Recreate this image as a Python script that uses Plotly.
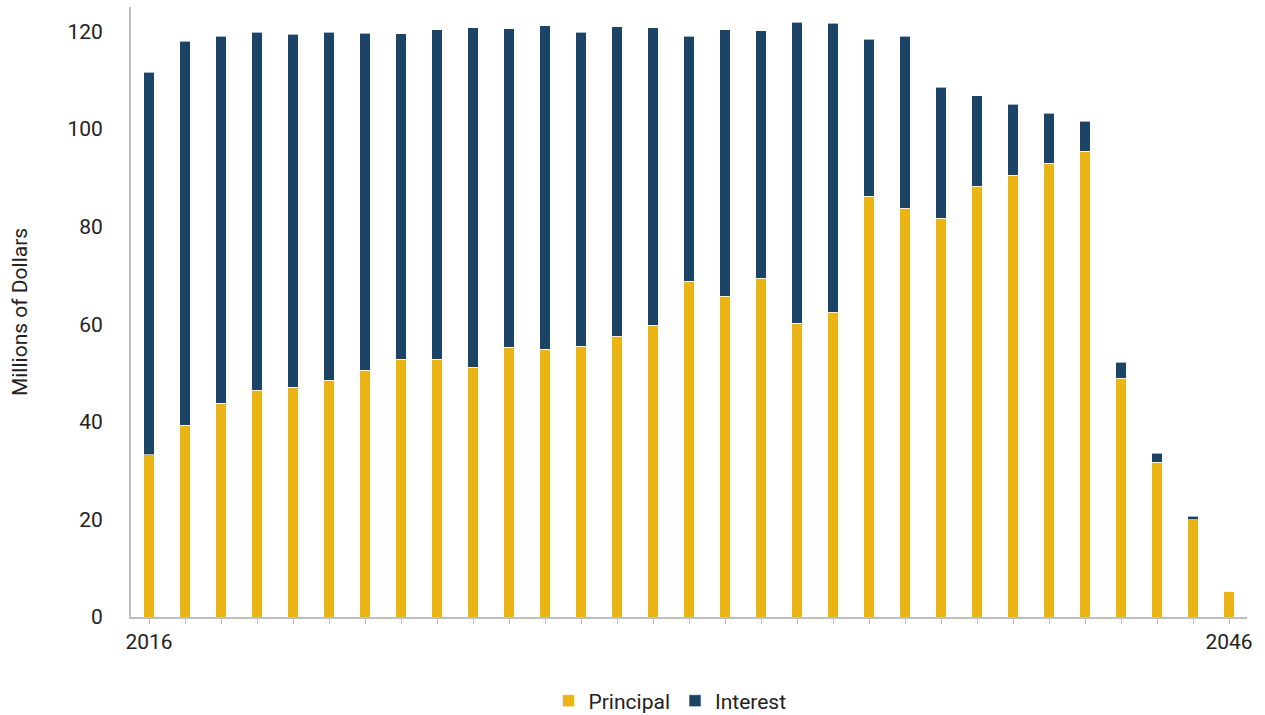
import plotly.graph_objects as go

years = list(range(2016, 2047))
principal = [33.2, 39.3, 43.8, 46.5, 47.1, 48.5, 50.6, 52.8, 52.8, 51.2,
             55.3, 54.9, 55.5, 57.5, 59.8, 68.8, 65.7, 69.4, 60.2, 62.5,
             86.2, 83.8, 81.7, 88.3, 90.5, 93.0, 95.4, 48.9, 31.7, 19.9, 5.3]
total = [111.6, 118.0, 119.0, 119.8, 119.4, 119.8, 119.6, 119.5, 120.3, 120.7,
         120.5, 121.2, 119.8, 121.0, 120.8, 119.0, 120.3, 120.1, 121.9, 121.7,
         118.4, 119.0, 108.6, 106.8, 105.1, 103.2, 101.6, 52.2, 33.6, 20.6, 5.3]
interest = [round(t - p, 2) for t, p in zip(total, principal)]
tick_text = ["2016"] + [""] * 29 + ["2046"]

GOLD = "#E9B414"
NAVY = "#1B4466"
FS = 21

fig = go.Figure()
fig.add_trace(go.Bar(x=years, y=principal, name="Principal", width=0.3,
                     marker=dict(color=GOLD, line=dict(color="rgba(255,255,255,0.6)", width=1))))
fig.add_trace(go.Bar(x=years, y=interest, name="Interest", width=0.3,
                     marker=dict(color=NAVY, line=dict(color="rgba(255,255,255,0.6)", width=1))))

fig.update_layout(
    barmode="stack",
    width=1265, height=715,
    margin=dict(l=131, r=18, t=7, b=98, autoexpand=False),
    plot_bgcolor="white", paper_bgcolor="white",
    font=dict(family="Roboto", size=FS, color="#222222"),
    showlegend=True,
    legend=dict(orientation="h", x=670 / 1265, xanchor="center", xref="container",
                y=(715 - 701) / 715, yanchor="middle", yref="container",
                font=dict(size=FS), traceorder="normal", itemwidth=30),
    xaxis=dict(range=[2015.5, 2046.5], tickmode="array", tickvals=years, ticktext=tick_text,
               showline=True, linecolor="#BFBFBF", linewidth=2, ticks="outside",
               tickcolor="#BFBFBF", ticklen=5, tickwidth=1, showgrid=False, zeroline=False,
               tickfont=dict(size=FS)),
    yaxis=dict(range=[0, 125], tickmode="array", tickvals=[0, 20, 40, 60, 80, 100, 120],
               showline=True, linecolor="#BFBFBF", linewidth=2, showgrid=False, zeroline=False,
               ticks="", ticklabelstandoff=22, tickfont=dict(size=FS),
               title=dict(text="Millions of Dollars", font=dict(size=FS), standoff=34)),
)

fig.write_html("out.html")
